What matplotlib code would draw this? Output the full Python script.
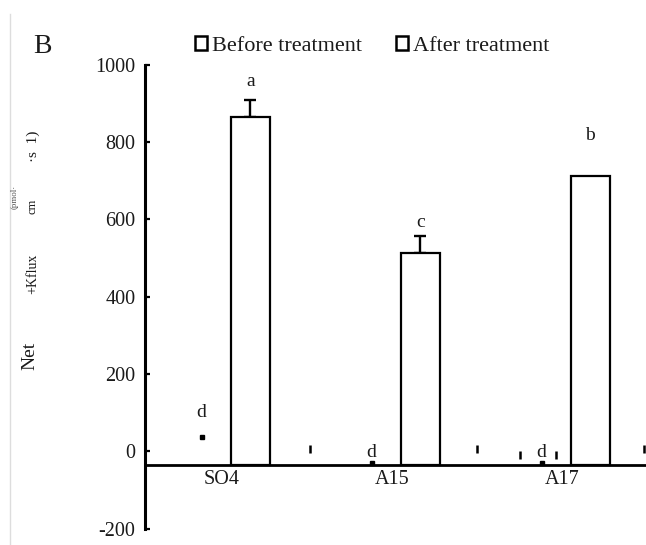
"""Net K+ flux before/after treatment, panel B."""

import matplotlib
matplotlib.use("Agg")
import matplotlib.pyplot as plt
import numpy as np
from matplotlib.lines import Line2D
from matplotlib.patches import Patch

plt.rcParams["font.family"] = ["Liberation Serif", "DejaVu Serif"]

# data
categories = ["SO4", "A15", "A17"]
after_mean = [865, 513, 712]
after_se = [44, 44, 0]
after_letters = ["a", "c", "b"]
before_mean = [37, -30, -30]
before_letters = ["d", "d", "d"]
# stray short tick marks left in the scan
stray_x = [0.52, 1.50, 1.75, 1.965, 2.48]
stray_y = [6, 6, -10, -10, 5]
y_ticks = [-200, 0, 200, 400, 600, 800, 1000]

BASE = -35          # where the category axis crosses
AFTER_OFF = 0.167
BEFORE_OFF = -0.12
BAR_W = 0.229
INK = "#1a1a1a"

fig = plt.figure(figsize=(6.46, 5.45), dpi=100)
ax = fig.add_axes([0.2245, 0.0301, 0.7755, 0.8512])

x = np.arange(len(categories))
mean = np.array(after_mean, dtype=float)
se = np.array(after_se, dtype=float)

ax.bar(x + AFTER_OFF, mean - BASE, bottom=BASE, width=BAR_W,
       facecolor="white", edgecolor="black", linewidth=1.6, zorder=3)
has_err = se > 0
ax.errorbar((x + AFTER_OFF)[has_err], mean[has_err],
            yerr=[np.zeros(has_err.sum()), se[has_err]],
            fmt="none", ecolor="black", elinewidth=1.7, capsize=4.5, capthick=1.7, zorder=2)

ax.plot(x + BEFORE_OFF, before_mean, linestyle="none", marker="s",
        markersize=2.3, color="black", zorder=3)
ax.errorbar(stray_x, stray_y, yerr=10, fmt="none", ecolor="black",
            elinewidth=1.8, capsize=0, zorder=3)

# significance letters
for xi, top, letter, gap in zip(x + AFTER_OFF, mean + se, after_letters, [18, 13, 41]):
    ax.annotate(letter, (xi, top), xytext=(0, gap), textcoords="offset pixels",
                ha="center", va="center", fontsize=14, color=INK)
for xi, val, letter, gap in zip(x + BEFORE_OFF, before_mean, before_letters, [24, 10, 10]):
    ax.annotate(letter, (xi, val), xytext=(0, gap), textcoords="offset pixels",
                ha="center", va="center", fontsize=14, color=INK)

ax.set_xlim(-0.453, 2.494)
ax.set_ylim(-200, 1000)
ax.set_yticks(y_ticks)
ax.set_yticklabels([str(t) for t in y_ticks])
ax.set_xticks(x)
ax.set_xticklabels(categories)

for side in ("top", "right"):
    ax.spines[side].set_visible(False)
ax.spines["left"].set_linewidth(2.2)
ax.spines["bottom"].set_linewidth(2.0)
ax.spines["bottom"].set_position(("data", BASE))
ax.spines["bottom"].set_zorder(4)
ax.tick_params(axis="y", direction="in", length=3.8, width=1.6, pad=7,
               labelsize=14.5, labelcolor=INK)
ax.tick_params(axis="x", length=0, pad=4, labelsize=14.5, labelcolor=INK)
ax.patch.set_visible(False)

# legend and panel label
handles = [Patch(facecolor="white", edgecolor="black", linewidth=1.8),
           Patch(facecolor="white", edgecolor="black", linewidth=1.8)]
fig.legend(handles, ["Before treatment", "After treatment"], ncol=2,
           loc="center left", bbox_to_anchor=(0.302, 0.9156), frameon=False,
           fontsize=16, handlelength=0.55, handleheight=0.55, handletextpad=0.2,
           columnspacing=1.55, borderpad=0, borderaxespad=0, labelcolor=INK)
fig.text(0.051, 0.914, "B", fontsize=20, ha="left", va="center", color=INK)

# garbled axis title, as it appears in the scan
fig.text(0.0464, 0.347, "Net", rotation=90, fontsize=14, ha="center", va="center", color=INK)
fig.text(0.051, 0.497, "+Kflux", rotation=90, fontsize=10, ha="center", va="center", color=INK)
fig.text(0.023, 0.638, "(pmol·", rotation=90, fontsize=6.5, ha="center", va="center", color="#555555")
fig.text(0.051, 0.622, "cm", rotation=90, fontsize=9, ha="center", va="center", color=INK)
fig.text(0.052, 0.732, "·s  1)", rotation=90, fontsize=11, ha="center", va="center", color=INK)

fig.add_artist(Line2D([0.0155, 0.0155], [0.0, 0.975], color="#dddddd", linewidth=1))

fig.savefig("out.png", dpi=100)
